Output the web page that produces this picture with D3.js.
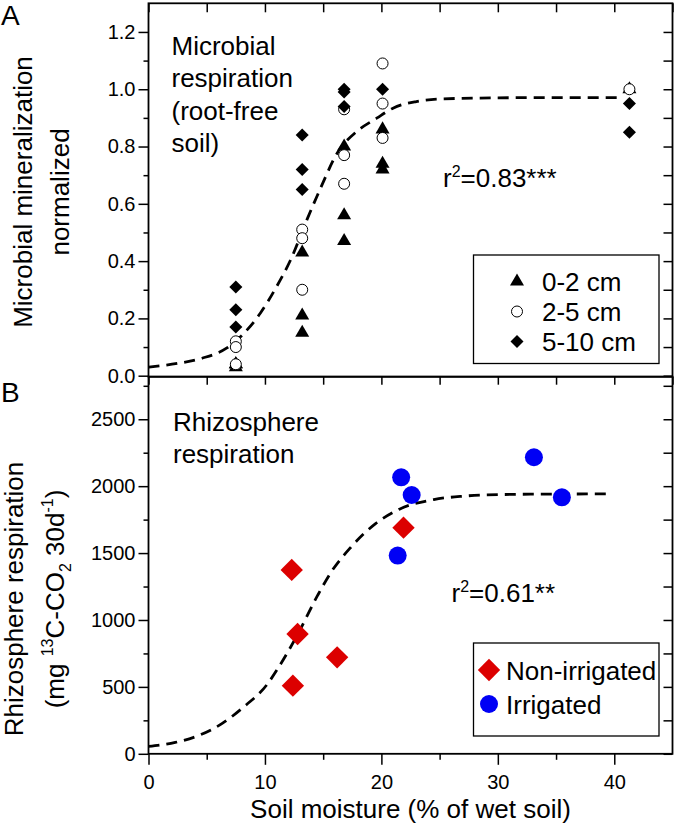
<!DOCTYPE html>
<html><head><meta charset="utf-8">
<script src="https://cdn.jsdelivr.net/npm/d3@7"></script>
<style>
html,body{margin:0;padding:0;background:#fff;}
svg{display:block;}
text{font-family:"Liberation Sans",Arial,Helvetica,sans-serif;fill:#000;}
</style>
</head><body>
<svg id="chart" width="677" height="836"></svg>
<script>
// ---------- data ----------
const xTicks = [0, 10, 20, 30, 40];
const xMinorTicks = [5, 15, 25, 35];
const xMirrorTicks = [0, 5, 10, 15, 20, 25, 30, 35, 40, 45];
const yTicksA = [0, 0.2, 0.4, 0.6, 0.8, 1.0, 1.2];
const yMinorA = [0.1, 0.3, 0.5, 0.7, 0.9, 1.1];
const yMirrorA = [0, 0.1, 0.2, 0.3, 0.4, 0.5, 0.6, 0.7, 0.8, 0.9, 1.0, 1.1, 1.2];
const yTicksB = [0, 500, 1000, 1500, 2000, 2500];
const yMinorB = [250, 750, 1250, 1750, 2250, 2750];
const yMirrorB = [0, 250, 500, 750, 1000, 1250, 1500, 1750, 2000, 2250, 2500, 2750];

// Panel A: soil moisture (%) vs normalized microbial mineralization
const depth0_2 = [[7.5,0.03],[7.5,0.04],[7.5,0.04],[13.2,0.43],[13.2,0.21],[13.2,0.15],
  [16.8,0.80],[16.8,0.56],[16.8,0.47],[20.1,0.86],[20.1,0.74],[20.1,0.72],[41.3,1.0]];
const depth2_5 = [[7.5,0.12],[7.5,0.10],[7.5,0.04],[13.2,0.51],[13.2,0.48],[13.2,0.30],
  [16.8,0.93],[16.8,0.77],[16.8,0.67],[20.1,1.09],[20.1,0.95],[20.1,0.83],[41.3,1.0]];
const depth5_10 = [[7.5,0.31],[7.5,0.23],[7.5,0.17],[13.2,0.84],[13.2,0.72],[13.2,0.65],
  [16.8,1.0],[16.8,0.99],[16.8,0.94],[20.1,1.0],[41.3,0.95],[41.3,0.85]];
const fitA = [[0,0.03],[2.5,0.043],[4.6,0.061],[6.7,0.096],[7.9,0.136],[9.6,0.218],[11.0,0.311],
  [12.2,0.404],[13.6,0.544],[14.9,0.666],[16.2,0.777],[17.9,0.853],[19.6,0.899],[21.0,0.934],
  [23.0,0.957],[25.0,0.966],[30,0.97],[35,0.971],[40.6,0.971]];

// Panel B: soil moisture (%) vs rhizosphere respiration
const nonIrrigated = [[12.3,1374],[12.8,895],[12.4,509],[16.2,721],[21.9,1690]];
const irrigated = [[21.7,2066],[22.6,1934],[21.4,1481],[33.1,2216],[35.5,1917]];
const fitB = [[0,55],[2.3,85],[4.4,140],[6.3,225],[8.1,345],[10.2,520],[11.2,650],[12.7,875],
  [14.5,1180],[15.7,1360],[17.3,1536],[19.5,1720],[21.6,1830],[24.5,1900],[27,1925],[30,1937],
  [35,1941],[39.6,1942]];

// ---------- layout ----------
const svg = d3.select("#chart");
const FONT_TICK = 20, FONT_LBL = 26;
const x = d3.scaleLinear().domain([0, 45]).range([148.5, 672.5]);
const yA = d3.scaleLinear().domain([-0.0035, 1.3]).range([376.7, 3.3]);
const yB = d3.scaleLinear().domain([0, 2818]).range([753.8, 376.7]);
const xL = x.range()[0], xR = x.range()[1];

function styleAxis(g, fs) {
  g.select(".domain").remove();
  g.selectAll(".tick line").attr("stroke", "#000").attr("stroke-width", 1.5);
  g.selectAll(".tick text").style("font-size", fs + "px").attr("fill", "#000")
    .style("font-family", '"Liberation Sans",Arial,sans-serif');
}
function axis(gen, tx, ty, fs) {
  const g = svg.append("g").attr("transform", `translate(${tx},${ty})`).call(gen);
  styleAxis(g, fs || FONT_TICK);
  return g;
}

// Panel A axes
axis(d3.axisLeft(yA).tickValues(yTicksA).tickSize(10).tickPadding(3).tickFormat(d3.format(".1f")), xL, 0);
axis(d3.axisLeft(yA).tickValues(yMinorA).tickSize(5).tickFormat(""), xL, 0);
axis(d3.axisLeft(yA).tickValues(yMirrorA).tickSize(9).tickFormat(""), xR, 0);
axis(d3.axisBottom(x).tickValues(xMirrorTicks).tickSize(9).tickFormat(""), 0, yA.range()[1]);

// Panel B axes
axis(d3.axisLeft(yB).tickValues(yTicksB).tickSize(10).tickPadding(3).tickFormat(d3.format("d")), xL, 0);
axis(d3.axisLeft(yB).tickValues(yMinorB).tickSize(5).tickFormat(""), xL, 0);
axis(d3.axisLeft(yB).tickValues(yMirrorB).tickSize(9).tickFormat(""), xR, 0);
axis(d3.axisBottom(x).tickValues(xMirrorTicks).tickSize(8).tickFormat(""), 0, yB.range()[1]);
axis(d3.axisBottom(x).tickValues(xTicks).tickSize(11).tickPadding(10).tickFormat(d3.format("d")), 0, yB.range()[0]);
axis(d3.axisBottom(x).tickValues(xMinorTicks).tickSize(6).tickFormat(""), 0, yB.range()[0]);

// frames
svg.append("rect").attr("x", xL).attr("y", yA.range()[1]).attr("width", xR - xL)
  .attr("height", yA.range()[0] - yA.range()[1]).attr("fill", "none").attr("stroke", "#000").attr("stroke-width", 1.8);
svg.append("rect").attr("x", xL).attr("y", yB.range()[1]).attr("width", xR - xL)
  .attr("height", yB.range()[0] - yB.range()[1]).attr("fill", "none").attr("stroke", "#000").attr("stroke-width", 1.8);

// fit curves
const lineA = d3.line().x(d => x(d[0])).y(d => yA(d[1])).curve(d3.curveMonotoneX);
const lineB = d3.line().x(d => x(d[0])).y(d => yB(d[1])).curve(d3.curveMonotoneX);
svg.append("path").attr("d", lineA(fitA)).attr("fill", "none").attr("stroke", "#000")
  .attr("stroke-width", 2.8).attr("stroke-dasharray", "11,7");
svg.append("path").attr("d", lineB(fitB)).attr("fill", "none").attr("stroke", "#000")
  .attr("stroke-width", 2.8).attr("stroke-dasharray", "11,7");

// markers
const triSym = d3.symbol().type(d3.symbolTriangle).size(85);
const sqSym = d3.symbol().type(d3.symbolSquare).size(85);
const sqSymB = d3.symbol().type(d3.symbolSquare).size(250);
const RED = "#dc0000", BLUE = "#0000f5";

svg.append("g").selectAll("path").data(depth0_2).join("path")
  .attr("d", triSym).attr("transform", d => `translate(${x(d[0])},${yA(d[1])})`).attr("fill", "#000");
svg.append("g").selectAll("circle").data(depth2_5).join("circle")
  .attr("cx", d => x(d[0])).attr("cy", d => yA(d[1])).attr("r", 5.5)
  .attr("fill", "#fff").attr("stroke", "#000").attr("stroke-width", 1);
svg.append("g").selectAll("path").data(depth5_10).join("path")
  .attr("d", sqSym).attr("transform", d => `translate(${x(d[0])},${yA(d[1])}) rotate(45)`).attr("fill", "#000");

svg.append("g").selectAll("path").data(nonIrrigated).join("path")
  .attr("d", sqSymB).attr("transform", d => `translate(${x(d[0])},${yB(d[1])}) rotate(45)`).attr("fill", RED);
svg.append("g").selectAll("circle").data(irrigated).join("circle")
  .attr("cx", d => x(d[0])).attr("cy", d => yB(d[1])).attr("r", 9).attr("fill", BLUE);

// texts
function txt(s, tx, ty, fs, anchor) {
  return svg.append("text").attr("x", tx).attr("y", ty).style("font-size", (fs || FONT_LBL) + "px")
    .attr("text-anchor", anchor || "start").text(s);
}
txt("A", 1, 25, 28);
txt("B", 1, 402, 28);

["Microbial", "respiration", "(root-free", "soil)"].forEach((s, i) => txt(s, 171.5, 55 + i * 32.3));
["Rhizosphere", "respiration"].forEach((s, i) => txt(s, 173, 431 + i * 32.3));

function r2(tx, ty, val) {
  const t = svg.append("text").attr("x", tx).attr("y", ty).style("font-size", FONT_LBL + "px");
  t.append("tspan").text("r");
  t.append("tspan").attr("dy", -10).style("font-size", "16px").text("2");
  t.append("tspan").attr("dy", 10).text(val);
}
r2(443, 186.7, "=0.83***");
r2(451.5, 601.7, "=0.61**");

// y axis titles
const yt1 = svg.append("g").attr("transform", "translate(32,192) rotate(-90)");
yt1.append("text").attr("text-anchor", "middle").style("font-size", FONT_LBL + "px").text("Microbial mineralization");
yt1.append("text").attr("text-anchor", "middle").attr("y", 36.7).style("font-size", FONT_LBL + "px").text("normalized");

const yt2 = svg.append("g").attr("transform", "translate(23,599) rotate(-90)");
yt2.append("text").attr("text-anchor", "middle").style("font-size", FONT_LBL + "px").text("Rhizosphere respiration");
const l2 = yt2.append("text").attr("text-anchor", "middle").attr("y", 41).style("font-size", FONT_LBL + "px");
l2.append("tspan").text("(mg ");
l2.append("tspan").attr("dy", -11).style("font-size", "16px").text("13");
l2.append("tspan").attr("dy", 11).text("C-CO");
l2.append("tspan").attr("dy", 7).style("font-size", "16px").text("2");
l2.append("tspan").attr("dy", -7).text(" 30d");
l2.append("tspan").attr("dy", -11).style("font-size", "16px").text("-1");
l2.append("tspan").attr("dy", 11).text(")");

// x axis title
txt("Soil moisture (% of wet soil)", (xL + xR) / 2, 818, FONT_LBL, "middle");

// legend A
const legA = [["0-2 cm", "tri"], ["2-5 cm", "circ"], ["5-10 cm", "dia"]];
svg.append("rect").attr("x", 473.5).attr("y", 255).attr("width", 185.5).attr("height", 108.5)
  .attr("fill", "#fff").attr("stroke", "#000").attr("stroke-width", 1.3);
legA.forEach((d, i) => {
  const cy = 281.5 + i * 30;
  if (d[1] === "tri") svg.append("path").attr("d", triSym).attr("transform", `translate(517,${cy})`).attr("fill", "#000");
  if (d[1] === "circ") svg.append("circle").attr("cx", 517).attr("cy", cy).attr("r", 5.5).attr("fill", "#fff").attr("stroke", "#000");
  if (d[1] === "dia") svg.append("path").attr("d", sqSym).attr("transform", `translate(517,${cy}) rotate(45)`).attr("fill", "#000");
  txt(d[0], 542, cy + 9.5);
});

// legend B
const legB = [["Non-irrigated", "dia"], ["Irrigated", "circ"]];
svg.append("rect").attr("x", 473.5).attr("y", 643).attr("width", 185.5).attr("height", 93)
  .attr("fill", "#fff").attr("stroke", "#000").attr("stroke-width", 1.3);
legB.forEach((d, i) => {
  const cy = 670 + i * 34;
  if (d[1] === "dia") svg.append("path").attr("d", sqSymB).attr("transform", `translate(489,${cy}) rotate(45)`).attr("fill", RED);
  if (d[1] === "circ") svg.append("circle").attr("cx", 489).attr("cy", cy).attr("r", 9).attr("fill", BLUE);
  txt(d[0], 506, cy + 9.5);
});
</script>
</body></html>
